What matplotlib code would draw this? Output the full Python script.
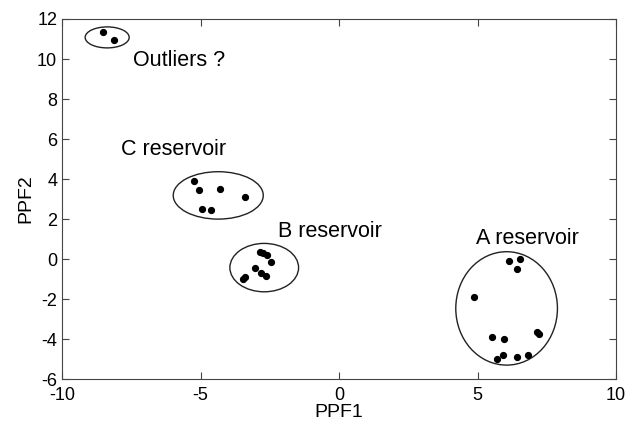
import numpy as np
import matplotlib.pyplot as plt
from matplotlib.patches import Ellipse

plt.rcParams['font.family'] = ['Liberation Sans', 'DejaVu Sans']
plt.rcParams['axes.unicode_minus'] = False

# PPF scores per sample group
outl_x = [-8.52, -8.12]
outl_y = [11.33, 10.95]

c_x = [-5.22, -5.04, -4.31, -3.39, -4.96, -4.61]
c_y = [3.90, 3.44, 3.50, 3.12, 2.50, 2.44]

b_x = [-2.85, -2.75, -2.61, -2.47, -3.03, -2.83, -2.64, -3.39, -3.48]
b_y = [0.37, 0.28, 0.20, -0.14, -0.44, -0.72, -0.84, -0.92, -1.02]

a_x = [6.14, 6.53, 6.44, 4.88, 5.53, 5.96, 7.16, 7.23, 5.91, 5.69, 6.42, 6.83]
a_y = [-0.09, 0.00, -0.52, -1.92, -3.89, -4.02, -3.64, -3.75, -4.80, -5.02, -4.89, -4.80]

# group outlines: centre x, centre y, width, height
groups = {
    'outliers': (-8.37, 11.08, 1.59, 1.05),
    'C': (-4.36, 3.18, 3.25, 2.37),
    'B': (-2.70, -0.43, 2.48, 2.42),
    'A': (6.05, -2.47, 3.67, 5.67),
}

labels = [('Outliers ?', -7.45, 9.93),
          ('C reservoir', -7.87, 5.5),
          ('B reservoir', -2.2, 1.4),
          ('A reservoir', 4.95, 1.05)]

fig = plt.figure(figsize=(6.27, 4.26), dpi=100)
ax = fig.add_axes([0.0989, 0.1103, 0.8836, 0.8451])

for xs, ys in [(outl_x, outl_y), (c_x, c_y), (b_x, b_y), (a_x, a_y)]:
    ax.plot(xs, ys, 'o', color='black', markersize=4.2)

for cx, cy, w, h in groups.values():
    ax.add_patch(Ellipse((cx, cy), w, h, fill=False, edgecolor='#222222', lw=1.0))

for txt, x, y in labels:
    ax.text(x, y, txt, fontsize=15.5, va='center', ha='left')

ax.set_xlim(-10, 10)
ax.set_ylim(-6, 12)
ax.set_xticks(np.arange(-10, 11, 5))
ax.set_yticks(np.arange(-6, 13, 2))
ax.tick_params(direction='in', top=True, right=True, labelsize=13, length=5, color='#444444')
ax.tick_params(axis='x', pad=6)
for s in ax.spines.values():
    s.set_color('#444444')
ax.set_xlabel('PPF1', fontsize=14, labelpad=0)
ax.set_ylabel('PPF2', fontsize=14, labelpad=2)

fig.savefig('out.png', dpi=100)
